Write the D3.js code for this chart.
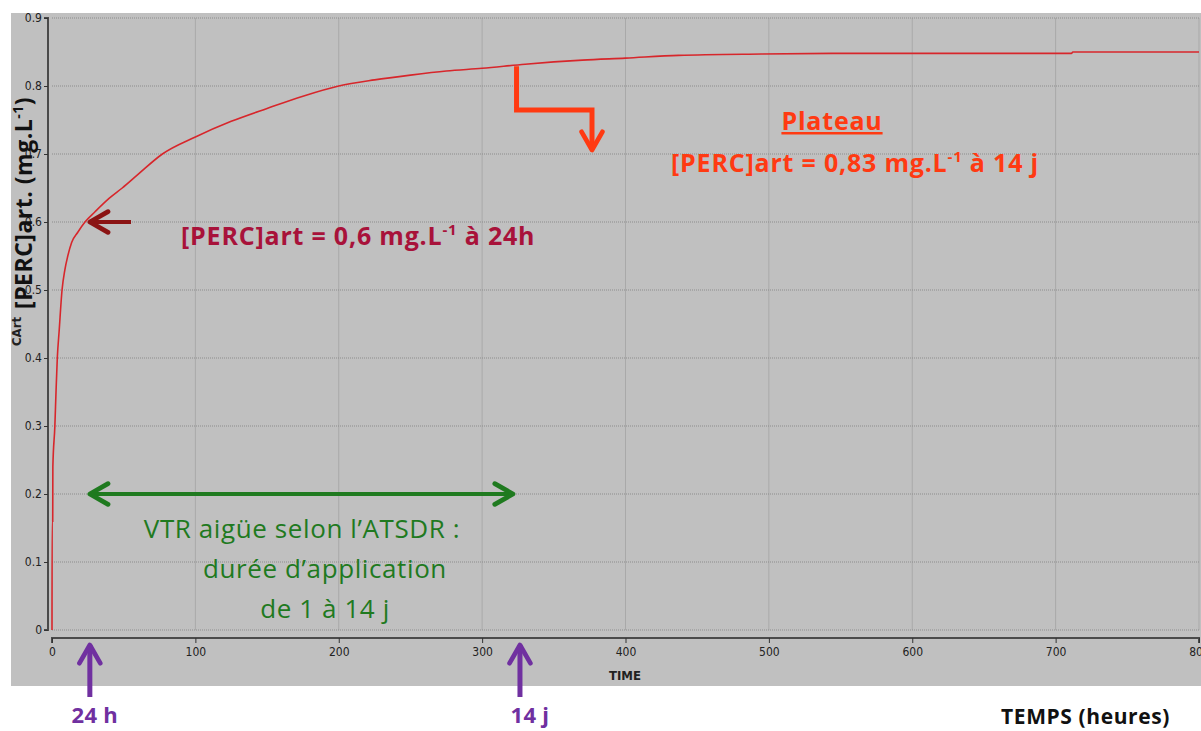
<!DOCTYPE html>
<html>
<head>
<meta charset="utf-8">
<script src="https://cdn.jsdelivr.net/npm/d3@7"></script>
<style>
  body { margin: 0; background: #fff; }
  svg { display: block; }
</style>
</head>
<body>
<div id="chart"></div>
<script>
var width = 1201;
var height = 731;

// simulated arterial PERC concentration (mg/L) vs time (hours)
var timeH = [0, 0.1, 0.5, 0.6, 2, 2.8, 3.7, 5, 7, 9, 11, 13.7, 18, 23, 30, 40, 49, 60, 77, 100,
  125, 150, 175, 200, 225, 250, 275, 300, 330, 370, 400, 437, 495, 550, 600, 711, 712, 800];
var concArt = [0, 0.16, 0.16, 0.24, 0.3, 0.35, 0.4, 0.44, 0.5, 0.53, 0.55, 0.57, 0.585, 0.6,
  0.615, 0.635, 0.65, 0.67, 0.7, 0.725, 0.748, 0.767, 0.785, 0.8, 0.809, 0.816, 0.822, 0.826,
  0.832, 0.838, 0.841, 0.845, 0.847, 0.848, 0.848, 0.848, 0.85, 0.85];
var xTicks = [0, 100, 200, 300, 400, 500, 600, 700, 800];
var yTicks = [0, 0.1, 0.2, 0.3, 0.4, 0.5, 0.6, 0.7, 0.8, 0.9];
var mark24h = 25;    // hours
var mark14j = 325;   // hours

var x = d3.scaleLinear().domain([0, 800]).range([52, 1199]);
var y = d3.scaleLinear().domain([0, 0.9]).range([630, 18]);

var svg = d3.select("#chart").append("svg")
  .attr("width", width)
  .attr("height", height);

var defs = svg.append("defs");
function marker(id, color, w) {
  defs.append("marker")
    .attr("id", id)
    .attr("viewBox", "0 0 10 10")
    .attr("refX", 8).attr("refY", 5)
    .attr("markerWidth", w).attr("markerHeight", w)
    .attr("markerUnits", "userSpaceOnUse")
    .attr("orient", "auto-start-reverse")
    .append("path")
    .attr("d", "M1,1 L8,5 L1,9")
    .attr("fill", "none")
    .attr("stroke", color)
    .attr("stroke-width", 1.8)
    .attr("stroke-linecap", "round")
    .attr("stroke-linejoin", "round");
}
marker("arrRed", "#8b1414", 26);
marker("arrOrange", "#ff3a12", 26);
marker("arrGreen", "#1f7a1f", 26);
marker("arrPurple", "#7030a0", 26);

// gray panel
svg.append("rect")
  .attr("x", 11).attr("y", 13)
  .attr("width", width - 11).attr("height", 673)
  .attr("fill", "#c0c0c0");

// grid
svg.append("g").selectAll("line")
  .data(xTicks.slice(1))
  .enter().append("line")
  .attr("x1", function(d) { return x(d); })
  .attr("x2", function(d) { return x(d); })
  .attr("y1", y(0.9)).attr("y2", y(0))
  .attr("stroke", "#a9a9a9")
  .attr("stroke-width", 1);

svg.append("g").selectAll("line")
  .data(yTicks)
  .enter().append("line")
  .attr("x1", x(0)).attr("x2", x(800))
  .attr("y1", function(d) { return y(d); })
  .attr("y2", function(d) { return y(d); })
  .attr("stroke", "#8c8c8c")
  .attr("stroke-width", 1)
  .attr("stroke-dasharray", "1,1");

// axes
var tickFont = "'Liberation Sans Narrow', 'DejaVu Sans Condensed', sans-serif";

var yAxis = svg.append("g")
  .attr("transform", "translate(48,0)")
  .call(d3.axisLeft(y).tickValues(yTicks).tickSize(4).tickPadding(2)
    .tickFormat(function(d) { return d === 0 ? "0" : d3.format(".1f")(d); }));
var xAxis = svg.append("g")
  .attr("transform", "translate(0,638)")
  .call(d3.axisBottom(x).tickValues(xTicks).tickSize(5).tickPadding(4));

[yAxis, xAxis].forEach(function(a) {
  a.select(".domain").attr("stroke", "#4a4a4a").attr("stroke-width", 2);
  a.selectAll(".tick line").attr("stroke", "#333");
  a.selectAll("text")
    .attr("font-family", tickFont)
    .attr("font-size", 12)
    .attr("fill", "#222");
});
xAxis.select(".domain").attr("d", "M" + x(0) + ",5V0H" + x(800) + "V5");
yAxis.select(".domain").attr("d", "M-4," + y(0.9) + "H0V" + y(0) + "H-4");

svg.append("text")
  .attr("x", 625).attr("y", 680)
  .attr("text-anchor", "middle")
  .attr("font-family", tickFont)
  .attr("font-size", 13)
  .attr("font-weight", "bold")
  .attr("fill", "#222")
  .text("TIME");

// concentration curve
var line = d3.line()
  .curve(d3.curveMonotoneX)
  .x(function(d) { return x(d[0]); })
  .y(function(d) { return y(d[1]); });

svg.append("path")
  .datum(d3.zip(timeH, concArt))
  .attr("d", line)
  .attr("fill", "none")
  .attr("stroke", "#d7262b")
  .attr("stroke-width", 1.6);

var font = "'Open Sans', Lato, sans-serif";

// axis titles
svg.append("text")
  .attr("transform", "translate(21,346) rotate(-90)")
  .attr("font-family", tickFont)
  .attr("font-size", 13)
  .attr("font-weight", "bold")
  .attr("fill", "#222")
  .text("CArt");

var yTitle = svg.append("text")
  .attr("transform", "translate(32,203) rotate(-90)")
  .attr("text-anchor", "middle")
  .attr("font-family", font)
  .attr("font-size", 23)
  .attr("font-weight", "bold")
  .attr("letter-spacing", 0.5)
  .attr("fill", "#111");
yTitle.append("tspan").text("[PERC]art. (mg.L");
yTitle.append("tspan").attr("dy", -9).attr("font-size", 14).text("-1");
yTitle.append("tspan").attr("dy", 9).text(")");

svg.append("text")
  .attr("x", 1170).attr("y", 724)
  .attr("text-anchor", "end")
  .attr("font-family", font)
  .attr("font-size", 21)
  .attr("font-weight", "bold")
  .attr("letter-spacing", 0.6)
  .attr("fill", "#111")
  .text("TEMPS (heures)");

// 24 h annotation
svg.append("line")
  .attr("x1", 131).attr("x2", x(mark24h) + 2)
  .attr("y1", y(0.6)).attr("y2", y(0.6))
  .attr("stroke", "#8b1414").attr("stroke-width", 4)
  .attr("marker-end", "url(#arrRed)");

var t1 = svg.append("text")
  .attr("x", 181).attr("y", 245)
  .attr("font-family", font)
  .attr("font-size", 25)
  .attr("font-weight", "bold")
  .attr("letter-spacing", 0.8)
  .attr("fill", "#a8123a");
t1.append("tspan").text("[PERC]art = 0,6 mg.L");
t1.append("tspan").attr("dy", -10).attr("font-size", 15).text("-1");
t1.append("tspan").attr("dy", 10).text(" à 24h");

// plateau annotation
svg.append("path")
  .attr("d", "M" + x(324) + "," + (y(0.832) + 2) + "V110H592V150")
  .attr("fill", "none")
  .attr("stroke", "#ff3a12").attr("stroke-width", 5)
  .attr("marker-end", "url(#arrOrange)");

svg.append("text")
  .attr("x", 832).attr("y", 130)
  .attr("text-anchor", "middle")
  .attr("font-family", font)
  .attr("font-size", 25)
  .attr("font-weight", "bold")
  .attr("letter-spacing", 0.8)
  .attr("text-decoration", "underline")
  .attr("fill", "#ff3a12")
  .text("Plateau");

var t2 = svg.append("text")
  .attr("x", 855).attr("y", 172)
  .attr("text-anchor", "middle")
  .attr("font-family", font)
  .attr("font-size", 25)
  .attr("font-weight", "bold")
  .attr("letter-spacing", 0.8)
  .attr("fill", "#ff3a12");
t2.append("tspan").text("[PERC]art = 0,83 mg.L");
t2.append("tspan").attr("dy", -10).attr("font-size", 15).text("-1");
t2.append("tspan").attr("dy", 10).text(" à 14 j");

// VTR duration arrow
svg.append("line")
  .attr("x1", x(mark24h) + 2).attr("x2", x(mark14j) - 5)
  .attr("y1", y(0.2)).attr("y2", y(0.2))
  .attr("stroke", "#1f7a1f").attr("stroke-width", 4)
  .attr("marker-start", "url(#arrGreen)")
  .attr("marker-end", "url(#arrGreen)");

var vtrLines = ["VTR aigüe selon l\u2019ATSDR :", "durée d\u2019application", "de 1 à 14 j"];
svg.append("g").selectAll("text")
  .data(vtrLines)
  .enter().append("text")
  .attr("x", function(d, i) { return i === 0 ? 302 : 325; })
  .attr("y", function(d, i) { return 538 + i * 40; })
  .attr("text-anchor", "middle")
  .attr("font-family", font)
  .attr("font-size", 26)
  .attr("letter-spacing", 0.6)
  .attr("fill", "#1f7a1f")
  .text(function(d) { return d; });

// time markers below the axis
var marks = [{ t: mark24h, label: "24 h", dx: 7 }, { t: mark14j, label: "14 j", dx: 12 }];
var mk = svg.append("g").selectAll("g")
  .data(marks)
  .enter().append("g");
mk.append("line")
  .attr("x1", function(d) { return x(d.t) + 2; })
  .attr("x2", function(d) { return x(d.t) + 2; })
  .attr("y1", 697).attr("y2", 645)
  .attr("stroke", "#7030a0").attr("stroke-width", 5)
  .attr("marker-end", "url(#arrPurple)");
mk.append("text")
  .attr("x", function(d) { return x(d.t) + d.dx; })
  .attr("y", 723)
  .attr("text-anchor", "middle")
  .attr("font-family", font)
  .attr("font-size", 22)
  .attr("font-weight", "bold")
  .attr("letter-spacing", 0.3)
  .attr("fill", "#7030a0")
  .text(function(d) { return d.label; });
</script>
</body>
</html>
